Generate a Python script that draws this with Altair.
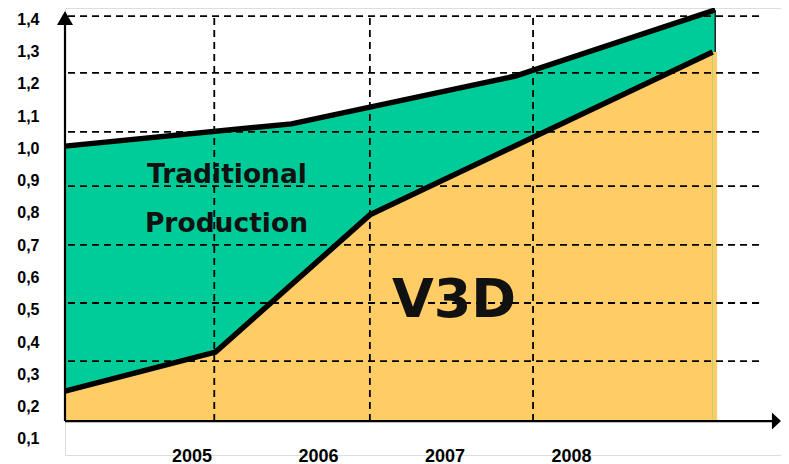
import altair as alt
import pandas as pd

# ---- data ----
# upper boundary (Traditional Production + V3D total)
top_years = [2004.0, 2005.79, 2007.56, 2009.14]
top_values = [1.007, 1.076, 1.224, 1.429]
# lower boundary (V3D)
v3d_years = [2004.0, 2005.19, 2006.41, 2009.12]
v3d_values = [0.248, 0.369, 0.794, 1.299]

y_tick_values = [0.1, 0.2, 0.3, 0.4, 0.5, 0.6, 0.7, 0.8, 0.9, 1.0, 1.1, 1.2, 1.3, 1.4]
x_tick_years = [2005, 2006, 2007, 2008]

# dashed guide lines (drawn freely in the original, not on tick values)
h_grid_values = [1.410, 1.234, 1.051, 0.883, 0.701, 0.521, 0.341]
v_grid_years = [2005.18, 2006.41, 2007.70]

label_texts = ["Traditional", "Production"]
label_years = [2004.648, 2004.632]
label_values = [0.893, 0.741]
big_text = ["V3D"]
big_years = [2006.585]
big_values = [0.4775]

BASE = 0.155          # value where the horizontal axis sits
YELLOW_RIGHT = 2009.155  # right edge of the yellow fill
X_DOMAIN = [2004, 2009.66]
Y_DOMAIN = [0.05, 1.435]
GRID_X = [2004.024, 2009.494]
GRID_TOP = 1.41
XAXIS_END = 2009.6
YAXIS_END = 1.40

GREEN = "#00CC99"
YELLOW = "#FFCC66"

xscale = alt.Scale(domain=X_DOMAIN, nice=False, zero=False)
yscale = alt.Scale(domain=Y_DOMAIN, nice=False, zero=False)

x_axis = alt.Axis(values=x_tick_years, format="d", labelFont="Liberation Sans",
                  labelFontWeight="bold", labelFontSize=18, labelColor="black",
                  labelPadding=1, labelBaseline="middle", domain=False, ticks=False,
                  tickSize=0, grid=False, title="", labelFlush=False)
y_axis = alt.Axis(values=y_tick_values,
                  labelExpr="replace(format(datum.value, '.1f'), '.', ',')",
                  labelFont="Liberation Sans", labelFontWeight="bold", labelFontSize=16,
                  labelColor="black", labelPadding=26, domain=False, ticks=False,
                  tickSize=0, grid=False, title="")


def X(field):
    return alt.X(field, type="quantitative", scale=xscale, axis=x_axis)


def Y(field):
    return alt.Y(field, type="quantitative", scale=yscale, axis=y_axis)


top_df = pd.DataFrame({"x": top_years, "y": top_values, "base": BASE})
v3d_df = pd.DataFrame({"x": v3d_years, "y": v3d_values, "base": BASE})

green_area = alt.Chart(top_df).mark_area(color=GREEN, opacity=1).encode(
    x=X("x"), y=Y("y"), y2="base:Q")
yellow_area = alt.Chart(v3d_df).mark_area(color=YELLOW, opacity=1).encode(
    x=X("x"), y=Y("y"), y2="base:Q")
cap_df = pd.DataFrame({"x": [v3d_years[-1]], "x2": [YELLOW_RIGHT],
                       "y": [BASE], "y2": [v3d_values[-1]]})
yellow_cap = alt.Chart(cap_df).mark_rect(color=YELLOW, opacity=1).encode(
    x=X("x"), x2="x2:Q", y=Y("y"), y2="y2:Q")

hgrid_df = pd.DataFrame({"y": h_grid_values, "x": GRID_X[0], "x2": GRID_X[1]})
hgrid = alt.Chart(hgrid_df).mark_rule(color="black", strokeWidth=1.8,
                                      strokeDash=[7, 5]).encode(
    x=X("x"), x2="x2:Q", y=Y("y"))

vgrid_df = pd.DataFrame({"x": v_grid_years, "y": BASE, "y2": GRID_TOP})
vgrid = alt.Chart(vgrid_df).mark_rule(color="black", strokeWidth=1.8,
                                      strokeDash=[7, 5]).encode(
    x=X("x"), y=Y("y"), y2="y2:Q")

top_line = alt.Chart(top_df).mark_line(color="black", strokeWidth=5.5).encode(
    x=X("x"), y=Y("y"))
v3d_line = alt.Chart(v3d_df).mark_line(color="black", strokeWidth=5.5).encode(
    x=X("x"), y=Y("y"))

edge_df = pd.DataFrame({"x": [top_years[-1]], "y": [v3d_values[-1]], "y2": [top_values[-1]]})
right_edge = alt.Chart(edge_df).mark_rule(color="#222222", strokeWidth=1.5).encode(
    x=X("x"), y=Y("y"), y2="y2:Q")

yaxis_df = pd.DataFrame({"x": [X_DOMAIN[0]], "y": [BASE], "y2": [YAXIS_END]})
yaxis_line = alt.Chart(yaxis_df).mark_rule(color="black", strokeWidth=2.2).encode(
    x=X("x"), y=Y("y"), y2="y2:Q")
xaxis_df = pd.DataFrame({"x": [X_DOMAIN[0]], "x2": [XAXIS_END], "y": [BASE]})
xaxis_line = alt.Chart(xaxis_df).mark_rule(color="black", strokeWidth=2.2).encode(
    x=X("x"), x2="x2:Q", y=Y("y"))

up_df = pd.DataFrame({"x": [X_DOMAIN[0]], "y": [1.404]})
up_arrow = alt.Chart(up_df).mark_point(shape="triangle-up", size=256, filled=True,
                                       color="black", opacity=1).encode(
    x=X("x"), y=Y("y"))
right_df = pd.DataFrame({"x": [2009.624], "y": [BASE]})
right_arrow = alt.Chart(right_df).mark_point(shape="M-0.53,-1L0.53,0L-0.53,1Z", size=289,
                                             filled=True, color="black",
                                             opacity=1).encode(
    x=X("x"), y=Y("y"))

lab_df = pd.DataFrame({"x": label_years, "y": label_values, "t": label_texts})
labels = alt.Chart(lab_df).mark_text(align="left", baseline="alphabetic",
                                     font="DejaVu Sans", fontWeight="bold",
                                     fontSize=26.5, color="#111111").encode(
    x=X("x"), y=Y("y"), text="t:N")
big_df = pd.DataFrame({"x": big_years, "y": big_values, "t": big_text})
big = alt.Chart(big_df).mark_text(align="left", baseline="alphabetic",
                                  font="DejaVu Sans", fontWeight="bold",
                                  fontSize=54, color="#111111").encode(
    x=X("x"), y=Y("y"), text="t:N")

chart = alt.layer(
    green_area, yellow_area, yellow_cap, hgrid, vgrid, top_line, v3d_line, right_edge,
    yaxis_line, xaxis_line, up_arrow, right_arrow, labels, big
).properties(
    width=716, height=447,
    autosize=alt.AutoSizeParams(type="none"),
    padding={"left": 57, "top": 0, "right": 0, "bottom": 10},
).configure_view(strokeWidth=0, stroke="transparent", strokeOpacity=0).configure(
    background="white")

chart.save("out.html", embed_options={"renderer": "svg", "actions": False})
